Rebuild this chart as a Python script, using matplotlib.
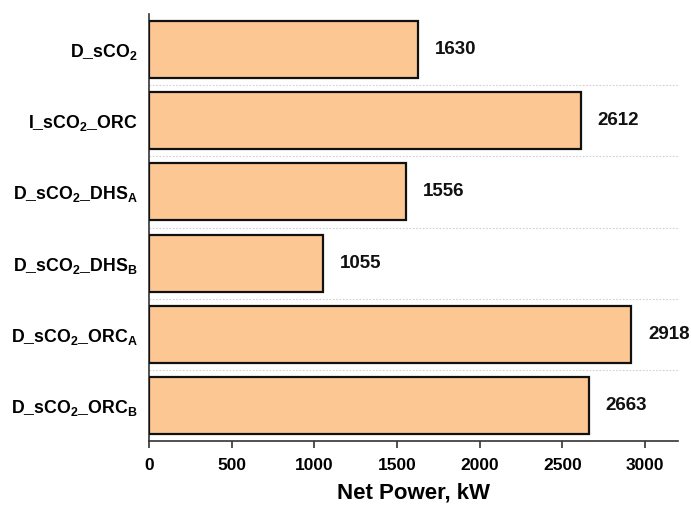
import matplotlib
matplotlib.use("Agg")
import matplotlib.pyplot as plt

plt.rcParams['font.family'] = ['Liberation Sans', 'DejaVu Sans']
plt.rcParams['mathtext.fontset'] = 'custom'
plt.rcParams['mathtext.rm'] = 'Liberation Sans:bold'
plt.rcParams['mathtext.bf'] = 'Liberation Sans:bold'
plt.rcParams['mathtext.it'] = 'Liberation Sans:bold'

categories = [r'D_sCO$_\mathbf{2}$', r'I_sCO$_\mathbf{2}$_ORC', r'D_sCO$_\mathbf{2}$_DHS$_\mathbf{A}$',
              r'D_sCO$_\mathbf{2}$_DHS$_\mathbf{B}$', r'D_sCO$_\mathbf{2}$_ORC$_\mathbf{A}$',
              r'D_sCO$_\mathbf{2}$_ORC$_\mathbf{B}$']
values = [1630, 2612, 1556, 1055, 2918, 2663]
xticks = [0, 500, 1000, 1500, 2000, 2500, 3000]

fig = plt.figure(figsize=(6.91, 5.07), dpi=100)
ax = fig.add_axes([149/691, (507-441)/507, (678-149)/691, (441-14)/507])

ypos = list(range(len(values)))
ax.barh(ypos, values, height=0.8, color='#FDC794', edgecolor='#111111', linewidth=1.6, zorder=3)
for y in ypos[:-1]:
    ax.axhline(y + 0.5, color='#d0d0d0', linestyle=(0, (1.5, 1.5)), linewidth=0.8, zorder=1)
for y, v in zip(ypos, values):
    ax.text(v + 100, y, str(v), va='center', ha='left', fontsize=13.5, fontweight='bold', color='#111111')

ax.set_xlim(0, 3200)
ax.set_ylim(len(values) - 0.5, -0.5)
ax.set_yticks(ypos)
ax.set_yticklabels(categories, fontsize=12.8, fontweight='bold')
ax.set_xticks(xticks)
ax.set_xticklabels([str(t) for t in xticks], fontsize=12.5, fontweight='bold')
ax.tick_params(axis='y', length=0, pad=8)
ax.tick_params(axis='x', length=5, width=1.2, color='#333333', pad=7)
ax.set_xlabel('Net Power, kW', fontsize=16, fontweight='bold', labelpad=7)
for s in ['top', 'right']:
    ax.spines[s].set_visible(False)
for s in ['left', 'bottom']:
    ax.spines[s].set_color('#333333')
    ax.spines[s].set_linewidth(1.2)

fig.savefig('out.png', dpi=100)
